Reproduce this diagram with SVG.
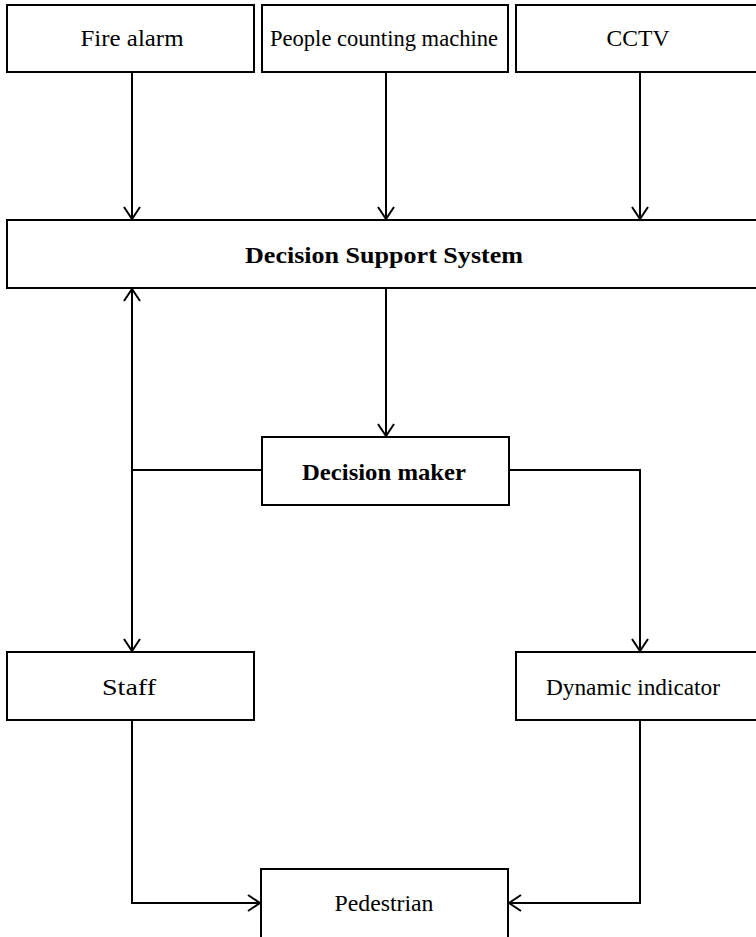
<svg xmlns="http://www.w3.org/2000/svg" width="756" height="937" viewBox="0 0 756 937">
  <style>
    .box { fill: #ffffff; stroke: #000000; stroke-width: 2; }
    .lbl { font-family: "Liberation Serif", "Times New Roman", serif; font-size: 24px; fill: #000000; text-anchor: middle; }
    .bold { font-weight: bold; }
    .wire { fill: none; stroke: #000000; stroke-width: 2; }
  </style>
  <defs>
    <marker id="arrow" viewBox="0 0 14 18" refX="13" refY="9" markerWidth="14" markerHeight="18" markerUnits="userSpaceOnUse" orient="auto">
      <path d="M1,1 L13,9 L1,17" fill="none" stroke="#000000" stroke-width="2"/>
    </marker>
  </defs>
  <rect width="756" height="937" fill="#ffffff"/>

  <g id="connectors">
    <line class="wire" x1="132" y1="72" x2="132" y2="219" marker-end="url(#arrow)"/>
    <line class="wire" x1="386" y1="72" x2="386" y2="219" marker-end="url(#arrow)"/>
    <line class="wire" x1="640" y1="72" x2="640" y2="219" marker-end="url(#arrow)"/>
    <line class="wire" x1="386" y1="288" x2="386" y2="436" marker-end="url(#arrow)"/>
    <line class="wire" x1="132" y1="470" x2="132" y2="289" marker-end="url(#arrow)"/>
    <line class="wire" x1="132" y1="470" x2="132" y2="651" marker-end="url(#arrow)"/>
    <line class="wire" x1="131" y1="470" x2="262" y2="470"/>
    <polyline class="wire" points="509,470 640,470 640,651" marker-end="url(#arrow)"/>
    <polyline class="wire" points="132,720 132,903 260,903" marker-end="url(#arrow)"/>
    <polyline class="wire" points="640,720 640,903 509,903" marker-end="url(#arrow)"/>
  </g>

  <g id="fire-alarm">
    <rect class="box" x="7" y="5" width="247" height="67"/>
    <text class="lbl" x="132" y="46" textLength="103" lengthAdjust="spacingAndGlyphs">Fire alarm</text>
  </g>
  <g id="people-counting-machine">
    <rect class="box" x="262" y="5" width="246" height="67"/>
    <text class="lbl" x="384" y="46" textLength="228" lengthAdjust="spacingAndGlyphs">People counting machine</text>
  </g>
  <g id="cctv">
    <rect class="box" x="516" y="5" width="250" height="67"/>
    <text class="lbl" x="638" y="46" textLength="63" lengthAdjust="spacingAndGlyphs">CCTV</text>
  </g>
  <g id="decision-support-system">
    <rect class="box" x="7" y="220" width="760" height="68"/>
    <text class="lbl bold" x="384" y="263" textLength="278" lengthAdjust="spacingAndGlyphs">Decision Support System</text>
  </g>
  <g id="decision-maker">
    <rect class="box" x="262" y="437" width="247" height="68"/>
    <text class="lbl bold" x="384" y="480" textLength="164" lengthAdjust="spacingAndGlyphs">Decision maker</text>
  </g>
  <g id="staff">
    <rect class="box" x="7" y="652" width="247" height="68"/>
    <text class="lbl" x="129" y="695" textLength="54" lengthAdjust="spacingAndGlyphs">Staff</text>
  </g>
  <g id="dynamic-indicator">
    <rect class="box" x="516" y="652" width="250" height="68"/>
    <text class="lbl" x="633" y="695" textLength="174" lengthAdjust="spacingAndGlyphs">Dynamic indicator</text>
  </g>
  <g id="pedestrian">
    <rect class="box" x="261" y="869" width="247" height="80"/>
    <text class="lbl" x="384" y="911" textLength="99" lengthAdjust="spacingAndGlyphs">Pedestrian</text>
  </g>
</svg>
